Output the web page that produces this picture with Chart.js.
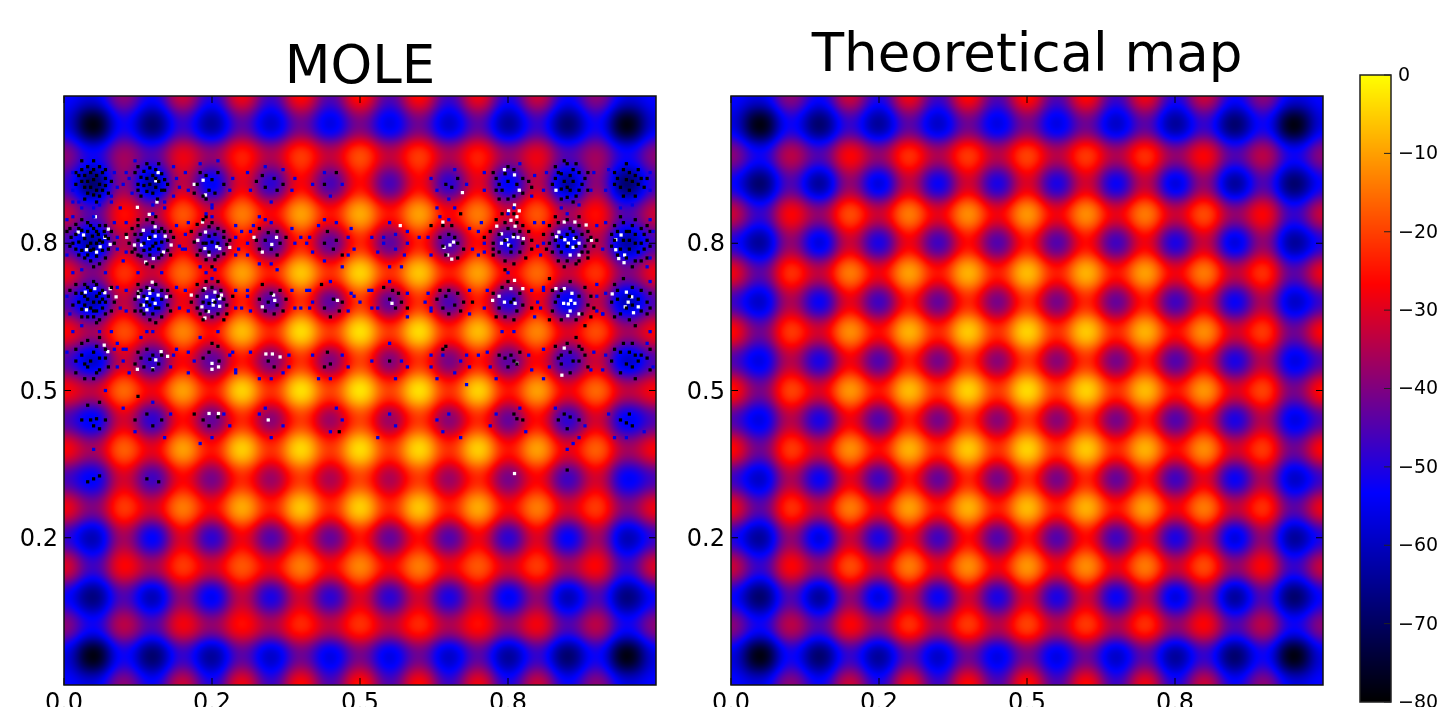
<!DOCTYPE html>
<html><head><meta charset="utf-8">
<script src="https://cdn.jsdelivr.net/npm/chart.js@4"></script>
<style>
html,body{margin:0;padding:0;background:#fff;width:1443px;height:707px;overflow:hidden}
canvas{position:absolute;display:block}
</style></head><body>
<canvas id="c1" width="660" height="760" style="left:0;top:0;width:660px;height:760px"></canvas>
<canvas id="c2" width="660" height="760" style="left:667px;top:0;width:660px;height:760px"></canvas>
<canvas id="c3" width="103" height="760" style="left:1340px;top:0;width:103px;height:760px"></canvas>
<script>
const gridX=[0,.05,.1,.15,.2,.25,.3,.35,.4,.45,.5,.55,.6,.65,.7,.75,.8,.85,.9,.95,1];
const gridY=[1,.95,.9,.85,.8,.75,.7,.65,.6,.55,.5,.45,.4,.35,.3,.25,.2,.15,.1,.05,0];
const tickValues=[0,.25,.5,.75];
const xTickLabels=['0.0','0.2','0.5','0.8'];
const yTickValues=[.25,.5,.75];
const yTickLabels=['0.2','0.5','0.8'];
const barTicks=[0,-10,-20,-30,-40,-50,-60,-70,-80];
const moleTitle='MOLE';
const theoryTitle='Theoretical map';

const moleRows=[
[-52,-56,-38,-52,-31,-50,-27,-47,-25,-45,-24,-45,-25,-47,-27,-50,-31,-52,-38,-56,-52],
[-56,-80,-52,-70,-48,-65,-44,-60,-42,-57,-41,-57,-42,-60,-44,-65,-48,-70,-52,-80,-56],
[-38,-52,-36,-45,-28,-38,-23,-35,-20,-33,-18,-33,-20,-35,-23,-38,-28,-45,-36,-52,-38],
[-47,-70,-38,-64,-33,-56,-29,-50,-27,-47,-26,-47,-27,-50,-29,-56,-33,-64,-38,-70,-47],
[-31,-45,-25,-36,-17,-31,-13,-27,-9,-25,-8,-25,-9,-27,-13,-31,-17,-36,-25,-45,-31],
[-46,-64,-34,-58,-29,-53,-26,-48,-24,-45,-23,-45,-24,-48,-26,-53,-29,-58,-34,-64,-46],
[-27,-40,-21,-32,-15,-28,-9,-24,-5,-22,-3.5,-22,-5,-24,-9,-28,-15,-32,-21,-40,-27],
[-45,-62,-33,-57,-28,-52,-24,-47,-22,-45,-21,-45,-22,-47,-24,-52,-28,-57,-33,-62,-45],
[-26,-36,-18,-30,-12,-26,-6,-23,-2.5,-21,-2,-21,-2.5,-23,-6,-26,-12,-30,-18,-36,-26],
[-45,-60,-32,-50,-27,-45,-25,-42,-22,-41,-20,-41,-22,-42,-25,-45,-27,-50,-32,-60,-45],
[-26,-33,-15,-28,-9,-25,-3.5,-22,-2,-20,-1.5,-20,-2,-22,-3.5,-25,-9,-28,-15,-33,-26],
[-45,-56,-31,-50,-26,-44,-23,-40,-21,-38,-20,-38,-21,-40,-23,-44,-26,-50,-31,-56,-45],
[-26,-36,-16,-29,-9,-25,-4,-22,-3,-21,-2.5,-21,-3,-22,-4,-25,-9,-29,-16,-36,-26],
[-46,-55,-31,-48,-27,-42,-23,-38,-21,-36,-20,-36,-21,-38,-23,-42,-27,-48,-31,-55,-46],
[-27,-40,-20,-31,-13,-27,-8,-24,-5,-23,-4,-23,-5,-24,-8,-27,-13,-31,-20,-40,-27],
[-48,-62,-36,-55,-30,-50,-28,-46,-26,-44,-25,-44,-26,-46,-28,-50,-30,-55,-36,-62,-48],
[-29,-47,-26,-36,-20,-31,-17,-28,-13,-27,-12,-27,-13,-28,-17,-31,-20,-36,-26,-47,-29],
[-52,-68,-45,-62,-38,-56,-33,-52,-31,-50,-30,-50,-31,-52,-33,-56,-38,-62,-45,-68,-52],
[-38,-52,-33,-45,-27,-38,-25,-35,-22,-33,-21,-33,-22,-35,-25,-38,-27,-45,-33,-52,-38],
[-56,-80,-52,-70,-48,-65,-44,-60,-42,-57,-41,-57,-42,-60,-44,-65,-48,-70,-52,-80,-56],
[-52,-56,-38,-52,-31,-50,-27,-47,-25,-45,-24,-45,-25,-47,-27,-50,-31,-52,-38,-56,-52]
];
const theoryRows=[
[-52,-56,-38,-52,-31,-50,-27,-47,-25,-45,-24,-45,-25,-47,-27,-50,-31,-52,-38,-56,-52],
[-56,-80,-52,-70,-48,-65,-44,-60,-42,-57,-41,-57,-42,-60,-44,-65,-48,-70,-52,-80,-56],
[-38,-52,-33,-45,-26,-38,-21,-35,-20,-34,-19,-34,-20,-35,-21,-38,-26,-45,-33,-52,-38],
[-52,-70,-45,-65,-38,-58,-33,-54,-31,-52,-30,-52,-31,-54,-33,-58,-38,-65,-45,-70,-52],
[-31,-48,-26,-38,-18,-32,-13,-29,-11,-28,-10,-28,-11,-29,-13,-32,-18,-38,-26,-48,-31],
[-50,-65,-38,-58,-32,-52,-28,-48,-26,-46,-25,-46,-26,-48,-28,-52,-32,-58,-38,-65,-50],
[-27,-44,-21,-33,-13,-28,-9,-25,-7,-24,-6,-24,-7,-25,-9,-28,-13,-33,-21,-44,-27],
[-47,-60,-35,-54,-29,-48,-25,-44,-23,-42,-22,-42,-23,-44,-25,-48,-29,-54,-35,-60,-47],
[-25,-42,-20,-31,-11,-26,-7,-23,-4.5,-22,-3.5,-22,-4.5,-23,-7,-26,-11,-31,-20,-42,-25],
[-45,-57,-34,-52,-28,-46,-24,-42,-22,-40,-21,-40,-22,-42,-24,-46,-28,-52,-34,-57,-45],
[-24,-41,-19,-30,-10,-25,-6,-22,-3.5,-21,-2.5,-21,-3.5,-22,-6,-25,-10,-30,-19,-41,-24],
[-45,-57,-34,-52,-28,-46,-24,-42,-22,-40,-21,-40,-22,-42,-24,-46,-28,-52,-34,-57,-45],
[-25,-42,-20,-31,-11,-26,-7,-23,-4.5,-22,-3.5,-22,-4.5,-23,-7,-26,-11,-31,-20,-42,-25],
[-47,-60,-35,-54,-29,-48,-25,-44,-23,-42,-22,-42,-23,-44,-25,-48,-29,-54,-35,-60,-47],
[-27,-44,-21,-33,-13,-28,-9,-25,-7,-24,-6,-24,-7,-25,-9,-28,-13,-33,-21,-44,-27],
[-50,-65,-38,-58,-32,-52,-28,-48,-26,-46,-25,-46,-26,-48,-28,-52,-32,-58,-38,-65,-50],
[-31,-48,-26,-38,-18,-32,-13,-29,-11,-28,-10,-28,-11,-29,-13,-32,-18,-38,-26,-48,-31],
[-52,-70,-45,-65,-38,-58,-33,-54,-31,-52,-30,-52,-31,-54,-33,-58,-38,-65,-45,-70,-52],
[-38,-52,-33,-45,-26,-38,-21,-35,-20,-34,-19,-34,-20,-35,-21,-38,-26,-45,-33,-52,-38],
[-56,-80,-52,-70,-48,-65,-44,-60,-42,-57,-41,-57,-42,-60,-44,-65,-48,-70,-52,-80,-56],
[-52,-56,-38,-52,-31,-50,-27,-47,-25,-45,-24,-45,-25,-47,-27,-50,-31,-52,-38,-56,-52]
];

// MOLE outlier cells, as x,y pairs in axis units
const moleWhite=[
.053,.795,.024,.769,.033,.764,.075,.774,.069,.760,.078,.748,.061,.744,.055,.735,.038,.739,
.134,.772,.154,.778,.106,.760,.143,.758,.154,.762,.171,.762,.119,.747,.131,.747,.181,.747,.168,.735,.151,.724,.138,.718,
.159,.870,.155,.856,.157,.820,.124,.811,.144,.799,.220,.850,.235,.857,.239,.832,
.234,.786,.239,.769,.226,.755,.238,.741,.258,.744,.263,.741,.280,.743,.245,.730,
.321,.760,.351,.748,.359,.760,.335,.735,
.036,.667,.052,.673,.078,.673,.069,.666,.088,.659,.038,.637,
.149,.684,.126,.667,.126,.659,.144,.673,.145,.665,.140,.656,.159,.662,.173,.659,.154,.648,.134,.645,.140,.637,
.215,.662,.238,.673,.255,.667,.266,.662,.241,.659,.252,.653,.263,.656,.233,.642,.252,.645,.263,.643,.244,.634,
.354,.662,.356,.653,.335,.642,.462,.653,
.744,.875,.761,.866,.769,.840,.673,.836,.761,.815,.751,.805,.769,.805,.765,.795,.755,.789,.568,.780,.640,.786,
.731,.779,.762,.779,.739,.766,.767,.760,.748,.756,.759,.761,.776,.758,.739,.750,.751,.747,
.658,.752,.652,.747,.642,.743,.648,.730,.655,.723,
.845,.786,.863,.786,.882,.781,.836,.769,.832,.761,.846,.756,.852,.750,.862,.758,.870,.750,.891,.755,.860,.743,.855,.730,.870,.730,.831,.840,
.941,.764,.932,.756,.932,.739,.947,.730,.937,.724,.946,.717,
.554,.648,.761,.687,.775,.673,.755,.673,.735,.660,.724,.653,.744,.650,.762,.648,
.831,.673,.845,.673,.858,.665,.856,.653,.844,.648,.852,.647,.863,.648,.870,.630,.855,.635,.851,.627,
.950,.667,.959,.659,.953,.650,.948,.642,.970,.642,.962,.632,.926,.664,
.068,.577,.074,.566,.164,.566,.175,.558,.155,.552,.124,.536,.150,.537,.238,.623,.250,.546,.261,.540,.250,.536,
.341,.562,.352,.562,.365,.557,.245,.461,.261,.461,.345,.450,.845,.572,.765,.546,.841,.526,.761,.359
];
const moleBlack=[
.03,.875,.04,.88,.05,.875,.06,.88,.025,.865,.035,.865,.045,.87,.055,.865,.065,.87,.07,.86,.03,.855,.04,.855,.05,.858,.06,.85,.07,.848,.035,.845,.045,.845,.055,.84,.065,.84,.04,.835,.05,.832,.06,.83,.02,.85,.075,.835,
.125,.88,.135,.872,.145,.878,.155,.875,.165,.868,.13,.862,.14,.86,.15,.865,.16,.855,.17,.858,.125,.85,.135,.848,.145,.85,.155,.845,.165,.84,.14,.838,.15,.835,.13,.83,.158,.825,.175,.85,
.23,.87,.24,.865,.25,.858,.26,.87,.225,.85,.245,.84,.235,.83,.255,.835,.27,.85,.24,.825,.22,.835,
.335,.865,.355,.86,.37,.85,.34,.845,.36,.84,.325,.855,.46,.87,.44,.85,
.01,.775,.02,.782,.03,.79,.04,.785,.05,.775,.06,.78,.012,.76,.02,.765,.03,.772,.04,.77,.048,.762,.058,.765,.068,.77,.015,.75,.025,.752,.035,.758,.045,.75,.055,.75,.065,.752,.075,.758,.08,.77,.02,.74,.03,.738,.045,.738,.055,.728,.065,.738,.075,.74,.035,.725,.045,.72,.06,.715,
.115,.775,.125,.78,.14,.79,.15,.785,.165,.775,.12,.765,.13,.765,.15,.77,.16,.77,.17,.77,.11,.75,.125,.755,.135,.75,.155,.75,.165,.752,.175,.755,.12,.74,.135,.738,.145,.74,.16,.74,.175,.738,.13,.728,.145,.73,.16,.725,.14,.715,.15,.71,
.225,.782,.235,.79,.245,.778,.26,.775,.23,.765,.245,.762,.255,.765,.27,.76,.22,.752,.235,.75,.25,.752,.26,.75,.275,.748,.23,.738,.245,.735,.27,.732,.24,.722,.255,.722,
.33,.775,.345,.768,.36,.77,.325,.755,.34,.755,.365,.75,.375,.76,.35,.74,.33,.74,.36,.73,
.445,.77,.46,.755,.455,.74,.47,.73,.44,.75,
.02,.68,.035,.68,.05,.685,.065,.67,.02,.665,.03,.665,.045,.67,.06,.665,.075,.66,.025,.65,.04,.655,.05,.65,.06,.65,.07,.65,.085,.65,.03,.638,.045,.64,.055,.635,.065,.64,.08,.635,.04,.625,.05,.625,.06,.62,.015,.645,
.125,.68,.14,.675,.155,.68,.165,.67,.12,.655,.135,.66,.15,.655,.165,.655,.18,.66,.13,.645,.145,.645,.16,.64,.175,.645,.12,.635,.135,.63,.15,.63,.165,.625,.145,.62,
.225,.68,.24,.685,.25,.675,.265,.67,.225,.66,.235,.65,.245,.648,.255,.65,.27,.655,.275,.645,.225,.64,.24,.635,.26,.63,.275,.63,.25,.625,.235,.62,
.335,.68,.35,.665,.365,.67,.33,.655,.345,.65,.36,.645,.375,.655,.34,.635,.355,.63,.37,.635,
.435,.68,.455,.655,.47,.65,.44,.64,.465,.635,.45,.625,
.655,.845,.645,.85,.665,.86,
.64,.78,.655,.78,.62,.78,.65,.765,.66,.76,.635,.76,.665,.75,.64,.745,.675,.74,.645,.73,.665,.725,.67,.8,
.73,.86,.745,.868,.76,.875,.775,.86,.735,.85,.75,.855,.765,.85,.785,.855,.74,.84,.76,.83,.775,.835,.75,.825,.73,.84,
.83,.88,.85,.885,.86,.875,.84,.868,.855,.865,.87,.87,.83,.86,.845,.855,.86,.855,.875,.85,.84,.842,.855,.84,.87,.84,.85,.828,.865,.83,.84,.825,.88,.86,
.945,.875,.955,.87,.965,.865,.935,.86,.95,.858,.96,.855,.97,.85,.94,.845,.955,.84,.975,.86,.93,.85,.98,.845,
.73,.79,.745,.785,.76,.8,.775,.78,.72,.77,.735,.765,.75,.775,.77,.77,.785,.77,.725,.75,.745,.755,.755,.745,.775,.75,.79,.755,.735,.735,.755,.735,.77,.735,.745,.72,.76,.715,.725,.73,
.82,.78,.835,.785,.855,.775,.87,.78,.885,.77,.825,.765,.84,.76,.85,.765,.875,.765,.89,.76,.82,.75,.835,.745,.865,.745,.88,.745,.895,.745,.825,.735,.84,.735,.875,.735,.85,.72,.865,.715,.885,.725,.835,.72,
.93,.78,.945,.785,.96,.78,.975,.775,.935,.77,.95,.77,.965,.765,.98,.765,.93,.755,.945,.755,.955,.755,.975,.75,.985,.755,.94,.74,.955,.74,.97,.735,.98,.74,.95,.725,.965,.72,.975,.72,
.54,.675,.555,.67,.565,.665,.55,.655,.57,.65,.56,.64,.58,.64,
.635,.67,.65,.67,.665,.665,.63,.655,.645,.66,.66,.645,.675,.65,.64,.64,.65,.63,.67,.635,.69,.65,
.74,.675,.755,.65,.735,.64,.765,.635,.775,.645,.745,.625,.76,.62,
.82,.69,.84,.67,.88,.675,.83,.65,.87,.66,.885,.645,.825,.635,.875,.63,.89,.625,.84,.62,.865,.62,
.93,.68,.945,.69,.96,.675,.975,.67,.935,.655,.95,.64,.97,.655,.985,.65,.94,.63,.975,.635,.955,.62,.985,.63,
.02,.57,.04,.585,.055,.575,.03,.56,.045,.55,.05,.565,.06,.555,.07,.555,.02,.55,.04,.54,.055,.53,.06,.535,.035,.52,
.125,.565,.14,.57,.15,.56,.13,.555,.145,.553,.16,.545,.135,.54,.15,.535,.165,.56,.12,.545,
.25,.58,.26,.575,.245,.565,.262,.55,.235,.555,.345,.55,.355,.54,.445,.565,.45,.545,.44,.54,.55,.55,.645,.575,.64,.57,
.755,.56,.76,.55,.765,.545,.75,.54,.745,.555,.77,.565,.735,.56,
.85,.58,.87,.575,.875,.57,.855,.565,.86,.55,.84,.545,.87,.55,.88,.56,.855,.53,.835,.555,
.945,.58,.96,.58,.94,.565,.955,.565,.965,.56,.975,.56,.95,.545,.97,.55,.985,.555,.94,.53,
.04,.475,.06,.48,.03,.45,.045,.45,.055,.452,.07,.45,.05,.44,.06,.435,
.12,.45,.14,.46,.15,.44,.165,.45,.125,.49,.235,.45,.26,.455,.245,.44,.22,.46,
.765,.452,.775,.45,.76,.46,.845,.46,.855,.455,.85,.435,.835,.45,.87,.45,
.955,.46,.95,.445,.96,.44,.94,.45,.465,.43,.85,.365,.05,.35,.04,.345,.06,.355,.14,.35,.16,.345
];
const moleBlackDense=[
.005,.77,.025,.775,.045,.78,.055,.77,.07,.78,.01,.745,.04,.745,.05,.74,.06,.755,.07,.762,.085,.75,.025,.73,.04,.73,.07,.725,.05,.71,
.01,.67,.04,.675,.055,.68,.08,.675,.035,.66,.055,.66,.065,.655,.035,.645,.05,.635,.07,.63,.03,.625,.055,.615,
.03,.89,.05,.89,.07,.875,.02,.87,.08,.855,.035,.825,.055,.82,
.125,.79,.155,.795,.18,.77,.105,.765,.145,.76,.185,.76,.115,.735,.125,.73,.165,.73,.18,.73,.15,.745,
.13,.67,.15,.67,.175,.67,.125,.665,.14,.65,.155,.64,.13,.635,.18,.635,.155,.615,
.14,.885,.16,.885,.12,.87,.155,.86,.17,.84,.125,.84,
.24,.795,.25,.785,.215,.77,.27,.77,.24,.75,.28,.755,.225,.73,.26,.728,.25,.71,
.235,.67,.26,.685,.215,.65,.26,.66,.285,.66,.23,.63,.27,.62,
.83,.795,.85,.79,.87,.795,.81,.765,.86,.77,.865,.76,.9,.755,.83,.755,.885,.755,.815,.74,.85,.745,.885,.735,.845,.71,.87,.72,
.94,.795,.965,.79,.985,.78,.925,.765,.955,.77,.99,.77,.925,.745,.965,.75,.99,.745,.935,.73,.985,.725,.96,.71,
.845,.89,.865,.885,.835,.87,.885,.87,.825,.85,.85,.845,.885,.84,.86,.82,
.95,.885,.97,.875,.93,.87,.985,.86,.945,.83,.965,.83,
.935,.67,.955,.66,.99,.665,.925,.65,.96,.645,.99,.64,.93,.625,.965,.61,
.855,.685,.825,.67,.835,.66,.89,.66,.895,.64,.82,.62,.88,.61,
.74,.8,.765,.785,.71,.76,.76,.765,.725,.74,.79,.74,.745,.705,.78,.725,
.75,.685,.725,.665,.77,.665,.76,.655,.79,.64,.73,.625,
.75,.88,.725,.87,.79,.845,.735,.825,
.03,.58,.06,.59,.07,.57,.035,.545,.075,.54,.02,.53,.05,.52,
.93,.57,.99,.57,.925,.55,.96,.54,.99,.535,.965,.52,
.83,.575,.865,.59,.885,.54,.84,.56
];
const moleBlue=[
.015,.82,.03,.81,.06,.815,.08,.82,.095,.81,.015,.795,.17,.81,.24,.8,.25,.81,.185,.83,.195,.845,.1,.85,.105,.87,
.015,.7,.03,.705,.07,.7,.1,.72,.125,.7,.165,.7,.2,.74,.205,.765,.23,.71,.24,.7,.255,.705,.25,.69,.29,.76,.295,.74,.3,.77,.31,.73,.32,.78,.34,.79,.35,.715,.36,.705,.33,.715,.31,.66,.3,.64,
.4,.76,.41,.75,.43,.78,.44,.72,.48,.76,.49,.74,.47,.71,.41,.67,.42,.65,.4,.64,.5,.65,.49,.66,.52,.67,.53,.64,.61,.65,.62,.64,.6,.76,.58,.75,.56,.74,.54,.76,.55,.71,.57,.71,
.63,.81,.66,.81,.7,.77,.71,.75,.7,.73,.75,.7,.81,.75,.8,.65,.81,.67,.9,.66,.91,.63,.82,.54,.81,.52,.72,.54,.73,.52,.7,.56,.74,.6,.76,.6,.985,.58,.99,.6,.985,.71,.99,.79,
.015,.6,.03,.61,.06,.6,.08,.6,.09,.58,.1,.55,.11,.53,.1,.57,.13,.59,.14,.6,.15,.6,.19,.57,.21,.53,.23,.59,.26,.6,.28,.56,.29,.53,.22,.55,.33,.52,.35,.52,.37,.53,.38,.56,.43,.52,.45,.52,.47,.56,.55,.58,.56,.52,.57,.55,.62,.54,.63,.52,.64,.56,.66,.53,.67,.55,.68,.51,
.05,.4,.07,.5,.1,.47,.12,.43,.17,.42,.18,.46,.15,.48,.25,.42,.27,.46,.28,.44,.23,.41,.35,.42,.37,.44,.34,.47,.33,.46,.45,.43,.47,.45,.46,.47,.55,.46,.56,.44,.53,.42,.65,.46,.67,.42,.63,.45,.64,.43,.73,.46,.72,.44,.77,.47,.78,.43,.85,.4,.86,.41,.83,.47,.88,.44,.87,.42,.92,.46,.93,.42,.95,.42,.98,.43
];
const moleBlueRim=[
.015,.87,.015,.84,.085,.87,.09,.845,.08,.83,.05,.81,.025,.82,
.11,.86,.115,.835,.19,.86,.185,.88,.15,.815,.17,.82,.12,.89,
.205,.87,.21,.84,.285,.86,.28,.84,.25,.815,.26,.89,.23,.885,
.31,.87,.315,.84,.39,.86,.385,.84,.35,.82,.34,.88,.37,.875,
.42,.85,.45,.83,.47,.85,.44,.87,.62,.86,.63,.84,.68,.85,.65,.825,.66,.875,
.71,.87,.71,.84,.795,.865,.79,.83,.76,.81,.77,.885,
.815,.87,.81,.84,.895,.87,.89,.84,.87,.815,.84,.81,
.92,.875,.915,.84,.99,.87,.99,.84,.96,.815,.94,.81,
.005,.79,.085,.785,.09,.74,.09,.76,.005,.73,.05,.795,
.105,.785,.105,.735,.19,.78,.195,.745,.15,.8,
.21,.785,.205,.74,.29,.78,.29,.73,.25,.795,
.315,.77,.31,.75,.385,.775,.39,.75,.35,.785,.33,.795,
.415,.76,.42,.735,.485,.775,.48,.73,.46,.785,.44,.79,
.52,.76,.53,.735,.58,.77,.575,.73,.55,.785,.54,.75,.56,.765,
.615,.76,.62,.73,.685,.775,.69,.74,.65,.79,.635,.795,
.705,.785,.71,.735,.795,.785,.8,.745,.75,.8,
.81,.785,.805,.73,.9,.78,.85,.8,
.915,.785,.91,.74,.99,.725,.995,.77,
.005,.66,.09,.675,.095,.64,.01,.63,.105,.67,.105,.635,.19,.675,.195,.64,.205,.67,.21,.635,.29,.67,.29,.64,.31,.67,.315,.635,.385,.67,.39,.64,.415,.67,.415,.64,.485,.665,.48,.635,.45,.685,.515,.67,.52,.64,.58,.665,.58,.625,.55,.685,.615,.665,.62,.635,.685,.67,.685,.63,.715,.67,.71,.64,.79,.67,.795,.625,.81,.675,.805,.64,.9,.68,.9,.635,.915,.665,.91,.63,.99,.685,
.005,.565,.085,.57,.09,.54,.105,.57,.185,.56,.18,.54,.21,.565,.285,.565,.29,.535,.315,.565,.38,.54,.42,.56,.48,.54,.52,.55,.58,.54,.62,.56,.68,.56,.685,.54,.715,.565,.785,.56,.79,.535,.81,.57,.895,.565,.89,.535,.915,.56,.91,.535,.995,.54
];

const cmapStops=[-80,-53.33,-26.67,0];
const cmapRGB=[[0,0,0],[0,0,255],[255,0,0],[255,255,0]];
const FONT='"DejaVu Sans"';

function colorOf(v){
  v=Math.max(-80,Math.min(0,v));
  let k=0; while(k<2&&v>cmapStops[k+1])k++;
  const t=(v-cmapStops[k])/(cmapStops[k+1]-cmapStops[k]);
  return cmapRGB[k].map((a,n)=>Math.round(a+(cmapRGB[k+1][n]-a)*t));
}
function pairs(flat){const o=[];for(let i=0;i<flat.length;i+=2)o.push({x:flat[i],y:flat[i+1]});return o;}
function cr(a,b,c,d,t){return .5*(2*b+(c-a)*t+(2*a-5*b+4*c-d)*t*t+(3*b-a-3*c+d)*t*t*t);}
function cubic(rows,fx,fy){
  const n=rows.length-1,cl=i=>Math.max(0,Math.min(n,i));
  const ix=Math.min(n-1,Math.floor(fx)),iy=Math.min(n-1,Math.floor(fy)),tx=fx-ix,ty=fy-iy;
  const col=[];
  for(let j=-1;j<3;j++){const r=rows[cl(iy+j)];col.push(cr(r[cl(ix-1)],r[cl(ix)],r[cl(ix+1)],r[cl(ix+2)],tx));}
  return cr(col[0],col[1],col[2],col[3],ty);
}
function round2(rows,fx,fy){
  const n=rows.length-1,ix=Math.round(fx),iy=Math.round(fy);
  let sw=0,sv=0;
  for(let j=Math.max(0,iy-3);j<=Math.min(n,iy+3);j++)for(let i=Math.max(0,ix-3);i<=Math.min(n,ix+3);i++){
    const d=(i-fx)*(i-fx)+(j-fy)*(j-fy),w=Math.exp(-d/0.3);
    sw+=w;sv+=w*rows[j][i];
  }
  return sv/sw;
}
// image resampling of the value table: a mix of bicubic and a round kernel
function sample(rows,fx,fy){return .5*cubic(rows,fx,fy)+.5*round2(rows,fx,fy);}
const heatPlugin={
  id:'heat',
  beforeDatasetsDraw(chart,args,opts){
    const rows=opts.rows,res=200,n=rows.length-1;
    if(!chart.$img){
      const off=document.createElement('canvas');off.width=off.height=res;
      const g=off.getContext('2d'),im=g.createImageData(res,res);
      for(let j=0;j<res;j++)for(let i=0;i<res;i++){
        const c=colorOf(sample(rows,(i+.5)/res*n,(j+.5)/res*n)),p=(j*res+i)*4;
        im.data[p]=c[0];im.data[p+1]=c[1];im.data[p+2]=c[2];im.data[p+3]=255;
      }
      g.putImageData(im,0,0);chart.$img=off;
    }
    const sx=chart.scales.x,sy=chart.scales.y,ctx=chart.ctx;
    const l=sx.getPixelForValue(0),r=sx.getPixelForValue(1),t=sy.getPixelForValue(1),b=sy.getPixelForValue(0);
    ctx.save();ctx.imageSmoothingEnabled=true;ctx.imageSmoothingQuality='high';
    ctx.drawImage(chart.$img,l,t,r-l,b-t);ctx.restore();
  },
  afterDatasetsDraw(chart){
    const sx=chart.scales.x,sy=chart.scales.y,ctx=chart.ctx;
    const l=sx.getPixelForValue(0),r=sx.getPixelForValue(1),t=sy.getPixelForValue(1),b=sy.getPixelForValue(0);
    ctx.save();ctx.strokeStyle='#000';ctx.lineWidth=1;ctx.beginPath();
    tickValues.forEach(v=>{const p=sx.getPixelForValue(v);ctx.moveTo(p,b);ctx.lineTo(p,b-7);ctx.moveTo(p,t);ctx.lineTo(p,t+7);});
    yTickValues.forEach(v=>{const p=sy.getPixelForValue(v);ctx.moveTo(l,p);ctx.lineTo(l+7,p);ctx.moveTo(r,p);ctx.lineTo(r-7,p);});
    ctx.stroke();ctx.lineWidth=1.5;ctx.strokeStyle='#111';ctx.strokeRect(l,t,r-l,b-t);ctx.restore();
  }
};
function panel(id,title,rows,specks,padTop,padBottom){
  const nodes=[];
  rows.forEach((row,r)=>row.forEach((v,c)=>nodes.push({x:gridX[c],y:gridY[r],v})));
  const datasets=[{label:'map',data:nodes,pointRadius:0,showLine:false}];
  specks.forEach(s=>datasets.push({label:s.label,data:pairs(s.data),showLine:false,pointStyle:'rect',pointRadius:2.3,borderWidth:0,backgroundColor:s.color}));
  return new Chart(document.getElementById(id),{
    type:'scatter',data:{datasets},plugins:[heatPlugin],
    options:{responsive:false,animation:false,events:[],
      layout:{padding:{left:0,right:4,top:0,bottom:35}},
      plugins:{legend:{display:false},tooltip:{enabled:false},heat:{rows},
        title:{display:true,fullSize:false,text:title,color:'#000',font:{family:FONT,size:53,weight:'normal',lineHeight:1},padding:{top:padTop,bottom:padBottom}}},
      scales:{
        x:{type:'linear',min:0,max:1,grid:{display:false,drawTicks:false},border:{display:false},
          afterBuildTicks:a=>{a.ticks=tickValues.map(value=>({value}));},
          afterFit:a=>{a.height=40;},
          ticks:{color:'#000',font:{family:FONT,size:24},padding:4,maxRotation:0,autoSkip:false,callback:v=>xTickLabels[tickValues.indexOf(v)]}},
        y:{type:'linear',min:0,max:1,grid:{display:false,drawTicks:false},border:{display:false},
          afterBuildTicks:a=>{a.ticks=yTickValues.map(value=>({value}));},
          afterFit:a=>{a.width=64;},
          ticks:{color:'#000',font:{family:FONT,size:24},padding:6,labelOffset:2,autoSkip:false,callback:v=>yTickLabels[yTickValues.indexOf(v)]}}
      }}
  });
}
panel('c1',moleTitle,moleRows,[
  {label:'blue',data:moleBlue,color:'#0000e6'},{label:'blue rim',data:moleBlueRim,color:'#0000e6'},
  {label:'black',data:moleBlack,color:'#000'},{label:'black dense',data:moleBlackDense,color:'#000'},
  {label:'white',data:moleWhite,color:'#fff'}],43,0);
panel('c2',theoryTitle,theoryRows,[],31,12);

const barPlugin={
  id:'bar',
  beforeDatasetsDraw(chart){
    const s=chart.scales.y,a=chart.chartArea,ctx=chart.ctx;
    const t=s.getPixelForValue(0),b=s.getPixelForValue(-80);
    for(let p=Math.floor(t);p<b;p++){const c=colorOf(s.getValueForPixel(p+.5));ctx.fillStyle=`rgb(${c})`;ctx.fillRect(a.left,p,a.right-a.left,1);}
    ctx.save();ctx.strokeStyle='#222';ctx.lineWidth=1;ctx.beginPath();
    barTicks.forEach(v=>{const p=s.getPixelForValue(v);ctx.moveTo(a.right,p);ctx.lineTo(a.right-7,p);});
    ctx.stroke();ctx.lineWidth=1.5;ctx.strokeRect(a.left,t,a.right-a.left,b-t);ctx.restore();
  }
};
new Chart(document.getElementById('c3'),{
  type:'scatter',data:{datasets:[{label:'levels',data:barTicks.map(y=>({x:0,y})),pointRadius:0}]},plugins:[barPlugin],
  options:{responsive:false,animation:false,events:[],
    layout:{padding:{left:20,right:0,top:75,bottom:58}},
    plugins:{legend:{display:false},tooltip:{enabled:false}},
    scales:{
      x:{display:false,min:-1,max:1},
      y:{type:'linear',position:'right',min:-80,max:0,grid:{display:false,drawTicks:false},border:{display:false},
        afterBuildTicks:a=>{a.ticks=barTicks.map(value=>({value}));},
        afterFit:a=>{a.width=52;},
        ticks:{color:'#000',font:{family:FONT,size:19},padding:7,labelOffset:1,autoSkip:false,callback:v=>String(v).replace('-','\u2212')}}
    }}
});
</script></body></html>
